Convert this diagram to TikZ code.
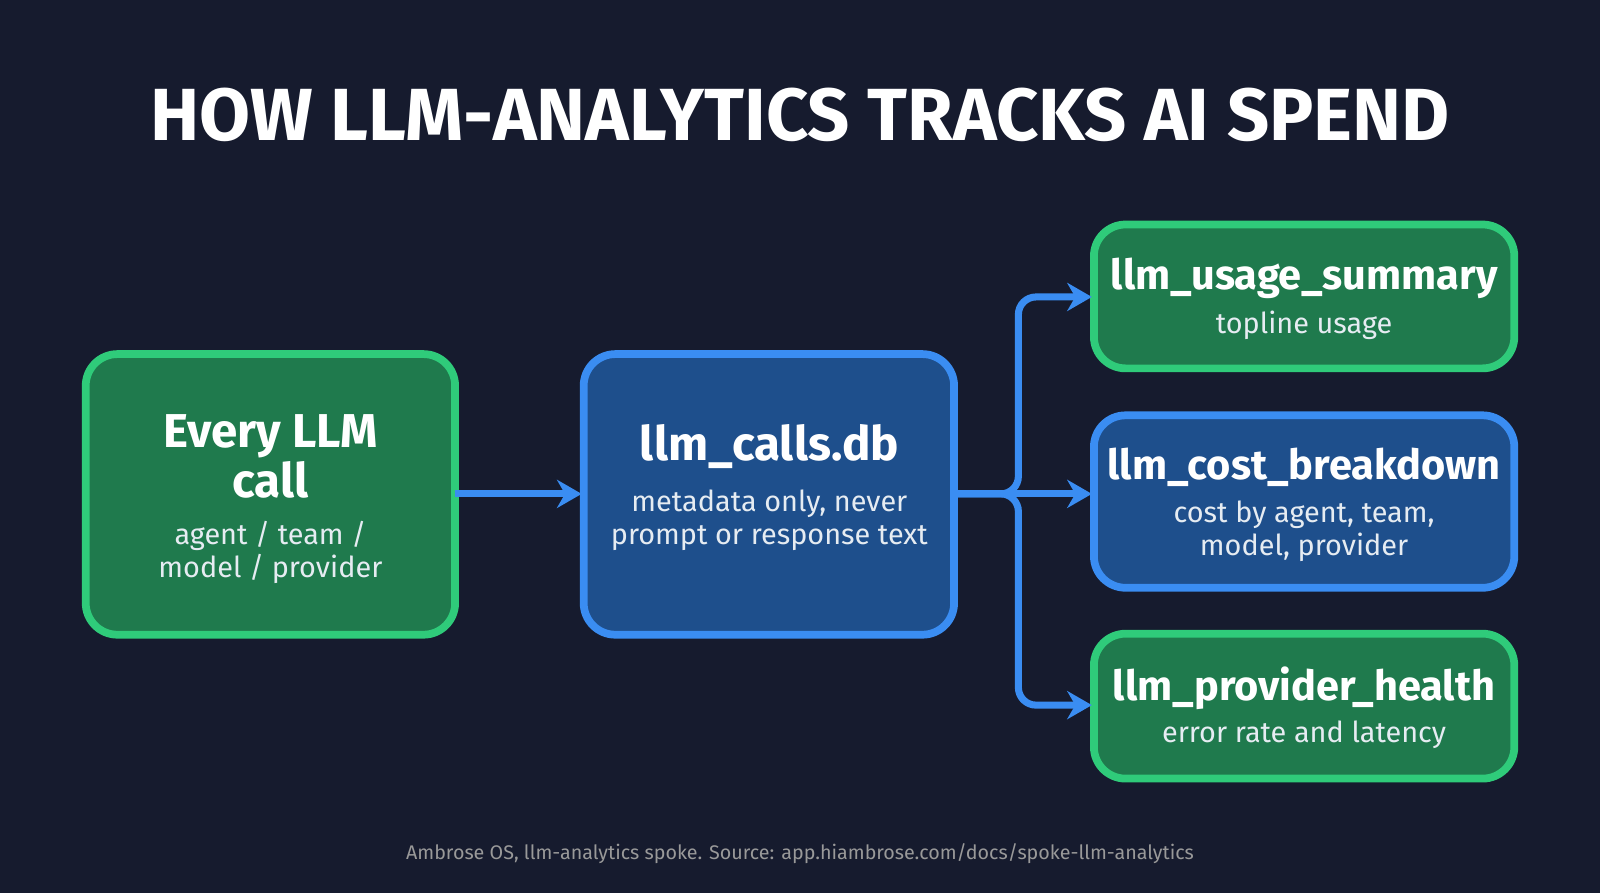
\documentclass[tikz,border=0pt]{standalone}
\usepackage{fontspec}
\setmainfont{Fira Sans}
\usetikzlibrary{positioning,arrows.meta}
\definecolor{bgnavy}{HTML}{161B2E}
\definecolor{gfill}{HTML}{1F7A4D}
\definecolor{gline}{HTML}{2FCB7A}
\definecolor{bfill}{HTML}{1E4F8C}
\definecolor{bline}{HTML}{3A8DF2}
\definecolor{subtxt}{HTML}{E6ECF2}
\tikzset{
  box/.style={rounded corners=9pt,line width=2.2pt,inner sep=0pt},
  gbox/.style={box,fill=gfill,draw=gline},
  bbox/.style={box,fill=bfill,draw=bline},
  head/.style={text=white,font=\bfseries\fontsize{11.8}{12}\selectfont,align=center},
  sub/.style={text=subtxt,font=\fontsize{8.2}{9.4}\selectfont,align=center},
  flow/.style={bline,line width=2pt,-{Stealth[length=7pt,width=8pt]}},
}
\begin{document}
\begin{tikzpicture}[x=0.0102cm,y=-0.0102cm]
  % fond
  \fill[bgnavy] (0,0) rectangle (1568,875);
  \useasboundingbox (0,0) rectangle (1568,875);

  % titre
  \node (title) at (784,113) [text=white,font=\bfseries\fontsize{21}{21}\selectfont] {HOW LLM-ANALYTICS TRACKS AI SPEND};

  % boites
  \draw[gbox] (84,347) rectangle (446,622);
  \node (src) at (265,447) [head,font=\bfseries\fontsize{13.5}{13}\selectfont] {Every LLM\\call};
  \node (srcsub) at (265,541) [sub] {agent / team /\\model / provider};
  \coordinate (srcE) at (446,484);

  \draw[bbox] (572,347) rectangle (935,622);
  \node (db) at (754,438) [head,font=\bfseries\fontsize{13.5}{13}\selectfont] {llm\_calls.db};
  \node (dbsub) at (754,510) [sub] {metadata only, never\\prompt or response text};
  \coordinate (dbW) at (570,484);
  \coordinate (dbE) at (935,484);

  \draw[gbox] (1072,220) rectangle (1484,361);
  \node (usage) at (1278,273) [head] {llm\_usage\_summary};
  \node (usagesub) at (1278,319) [sub] {topline usage};
  \coordinate (usageW) at (1070,291);

  \draw[bbox] (1072,407) rectangle (1484,576);
  \node (cost) at (1278,458) [head] {llm\_cost\_breakdown};
  \node (costsub) at (1278,521) [sub] {cost by agent, team,\\model, provider};
  \coordinate (costW) at (1070,484);

  \draw[gbox] (1072,621) rectangle (1484,763);
  \node (health) at (1278,674) [head] {llm\_provider\_health};
  \node (healthsub) at (1278,720) [sub] {error rate and latency};
  \coordinate (healthW) at (1070,691);

  % fleches
  \draw[flow] (srcE) -- (dbW);
  \draw[flow] (dbE) -- (costW);
  \draw[flow,rounded corners=5pt] (dbE) -- (998,484) |- (usageW);
  \draw[flow,rounded corners=5pt] (dbE) -- (998,484) |- (healthW);

  % pied
  \node (foot) at (784,837) [text=gray!80,font=\fontsize{5.6}{6}\selectfont] {Ambrose OS, llm-analytics spoke. Source: app.hiambrose.com/docs/spoke-llm-analytics};
\end{tikzpicture}
\end{document}
